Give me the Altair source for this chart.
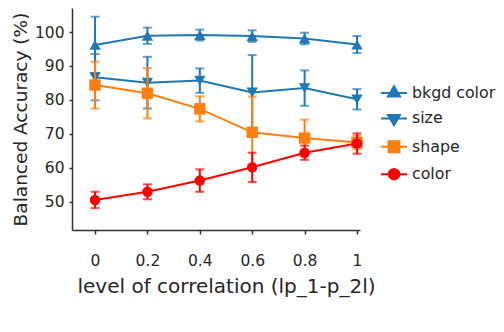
import altair as alt
import pandas as pd

levels = [0, 0.2, 0.4, 0.6, 0.8, 1]
series_names = ["bkgd color", "size", "shape", "color"]
bkgd_mean = [96.2, 98.9, 99.1, 98.8, 98.1, 96.3]
bkgd_err = [8.3, 2.4, 1.6, 1.7, 1.7, 2.5]
size_mean = [86.7, 85.1, 85.7, 82.2, 83.5, 80.2]
size_err = [6.8, 7.6, 3.6, 11.0, 5.2, 3.0]
shape_mean = [84.4, 82.0, 77.4, 70.5, 68.8, 67.5]
shape_err = [6.9, 7.4, 3.7, 10.5, 5.4, 2.0]
color_mean = [50.6, 53.0, 56.3, 60.2, 64.5, 67.2]
color_err = [2.4, 2.2, 3.3, 4.3, 2.1, 3.0]
y_ticks = [50, 60, 70, 80, 90, 100]

colors = ["#1f77b4", "#1f77b4", "#ff7f0e", "#ff0000"]
shapes = ["triangle-up", "triangle-down", "square", "circle"]
sizes = [130, 130, 130, 110]
legend_paths = [
    "M-1,0H1M0,-0.52L-0.46,0.27L0.46,0.27Z",
    "M-1,0H1M0,0.52L-0.46,-0.27L0.46,-0.27Z",
    "M-1,0H1M-0.42,-0.42H0.42V0.42H-0.42Z",
    "M-1,0H1M-0.4,0A0.4,0.4,0,1,1,0.4,0A0.4,0.4,0,1,1,-0.4,0Z",
]

means = [bkgd_mean, size_mean, shape_mean, color_mean]
errs = [bkgd_err, size_err, shape_err, color_err]
rows = []
for name, m, e in zip(series_names, means, errs):
    for lv, mv, ev in zip(levels, m, e):
        rows.append({"series": name, "level": lv, "mean": mv, "lo": mv - ev, "hi": mv + ev})
df = pd.DataFrame(rows)

FONT = "DejaVu Sans"
TXT = "#262626"

x_scale = alt.Scale(domain=[-0.088, 1.0115], nice=False, zero=False)
y_scale = alt.Scale(domain=[41.76, 107.06], nice=False, zero=False)
x_axis = alt.Axis(values=levels, format="~g", title="level of correlation (lp_1-p_2l)",
                  grid=False, ticks=True, tickSize=4, labelPadding=19, titlePadding=8,
                  titleX=154, titleFontSize=20)
y_axis = alt.Axis(values=y_ticks, title="Balanced Accuracy (%)", grid=False, ticks=True,
                  tickSize=3, labelPadding=5, titlePadding=4, titleFontSize=18.5)

X = alt.X("level:Q", scale=x_scale, axis=x_axis)
Y = alt.Y("mean:Q", scale=y_scale, axis=y_axis)
Ylo = alt.Y("lo:Q", scale=y_scale, axis=y_axis)
Yhi = alt.Y("hi:Q", scale=y_scale, axis=y_axis)
C = alt.Color("series:N", scale=alt.Scale(domain=series_names, range=colors), legend=None)

leg = alt.Legend(title=None, orient="none", legendX=308, legendY=71, padding=0,
                 labelFont=FONT, labelFontSize=15.8, labelColor=TXT, symbolSize=676,
                 symbolStrokeWidth=2, labelOffset=4, rowPadding=3.4)
legend_layer = alt.Chart(df).mark_point(opacity=1, strokeWidth=2, size=10).encode(
    x=X, y=Y,
    fill=alt.Fill("series:N", scale=alt.Scale(domain=series_names, range=colors), legend=leg),
    stroke=alt.Stroke("series:N", scale=alt.Scale(domain=series_names, range=colors), legend=leg),
    shape=alt.Shape("series:N", scale=alt.Scale(domain=series_names, range=legend_paths), legend=leg),
)

layers = [legend_layer]
for i, name in enumerate(series_names):
    base = alt.Chart(df).transform_filter(alt.datum.series == name)
    layers.append(base.mark_line(strokeWidth=2).encode(x=X, y=Y, color=C))
    layers.append(base.mark_rule(strokeWidth=2).encode(x=X, y=Ylo, y2="hi:Q", color=C))
    layers.append(base.mark_tick(orient="horizontal", size=9, thickness=2).encode(x=X, y=Ylo, color=C))
    layers.append(base.mark_tick(orient="horizontal", size=9, thickness=2).encode(x=X, y=Yhi, color=C))
    layers.append(base.mark_point(filled=True, opacity=1, shape=shapes[i], size=sizes[i]).encode(x=X, y=Y, color=C))

chart = alt.layer(*layers).properties(
    width=288, height=222,
    autosize=alt.AutoSizeParams(type="none"),
    padding={"left": 64, "top": 0, "right": 136, "bottom": 90},
).configure_view(stroke=None).configure_axis(
    labelFont=FONT, titleFont=FONT, labelFontSize=15.5,
    labelColor=TXT, titleColor=TXT, titleFontWeight="normal",
    domainColor="#333333", domainWidth=1.5, tickColor="#333333", tickWidth=1.5,
)

chart.save("out.html", embed_options={"renderer": "svg", "actions": False})
